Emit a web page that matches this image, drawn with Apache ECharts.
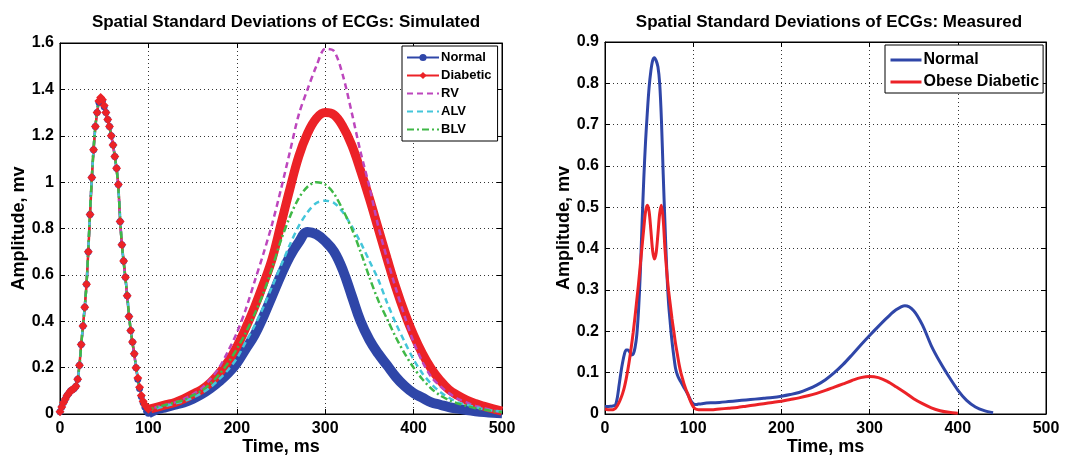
<!DOCTYPE html>
<html lang="en">

<head>
  <meta charset="utf-8">
  <script src="https://cdn.jsdelivr.net/npm/echarts@6.0.0/dist/echarts.min.js"></script>
  <style>
    html, body { margin: 0; padding: 0; background: #fff; }
  </style>
</head>

<body>
  <div id="ecgChart" style="width: 1067px;height:457px;"></div>

  <script type="text/javascript">

    // sampling grids (ms)
    function range(start, end, step) {
        var out = [];
        for (var t = start; t <= end; t += step) out.push(t);
        return out;
    }

    // ---- simulated ----
    var simTimeQrs = range(0, 100, 2);
    var simTimeT = range(100, 500, 10);
    var simTimeDash = range(0, 95, 5).concat(range(100, 500, 10));

    var normalQrs = [0.01, 0.03, 0.05, 0.065, 0.08, 0.09, 0.10, 0.105, 0.11, 0.12, 0.15, 0.21, 0.30, 0.38, 0.46, 0.56, 0.70, 0.86, 1.02, 1.14,
        1.24, 1.30, 1.345, 1.36, 1.35, 1.325, 1.30, 1.27, 1.24, 1.20, 1.16, 1.11, 1.06, 0.99, 0.83, 0.73, 0.66, 0.59, 0.51, 0.42,
        0.36, 0.31, 0.26, 0.20, 0.15, 0.11, 0.075, 0.05, 0.03, 0.012, 0.003];
    var normalT = [0.003, 0.02, 0.03, 0.04, 0.05, 0.065, 0.085, 0.11, 0.14, 0.175, 0.22, 0.28, 0.34, 0.42, 0.51, 0.60, 0.68, 0.74, 0.785, 0.775,
        0.745, 0.70, 0.62, 0.51, 0.40, 0.32, 0.26, 0.21, 0.16, 0.12, 0.09, 0.07, 0.05, 0.04, 0.03, 0.023, 0.017, 0.012, 0.008, 0.005, 0.003];

    var diabeticQrs = [0.01, 0.03, 0.05, 0.065, 0.08, 0.09, 0.10, 0.105, 0.11, 0.12, 0.15, 0.21, 0.30, 0.38, 0.46, 0.56, 0.70, 0.86, 1.02, 1.14,
        1.24, 1.30, 1.35, 1.365, 1.355, 1.33, 1.30, 1.27, 1.24, 1.20, 1.16, 1.11, 1.06, 0.99, 0.83, 0.73, 0.66, 0.59, 0.51, 0.42,
        0.36, 0.31, 0.26, 0.20, 0.155, 0.115, 0.08, 0.055, 0.04, 0.03, 0.02];
    var diabeticT = [0.02, 0.03, 0.04, 0.05, 0.065, 0.085, 0.105, 0.135, 0.175, 0.225, 0.29, 0.37, 0.46, 0.56, 0.67, 0.82, 0.97, 1.11, 1.21, 1.275,
        1.30, 1.29, 1.24, 1.16, 1.05, 0.93, 0.80, 0.67, 0.545, 0.435, 0.34, 0.26, 0.195, 0.145, 0.105, 0.08, 0.06, 0.045, 0.033, 0.022, 0.012];

    var rvValues = [0.01, 0.06, 0.09, 0.11, 0.15, 0.34, 0.56, 0.95, 1.24, 1.355, 1.325, 1.25, 1.16, 1.02, 0.73, 0.55, 0.36, 0.23, 0.11, 0.045,
        0.02, 0.03, 0.04, 0.05, 0.065, 0.085, 0.11, 0.15, 0.20, 0.27, 0.35, 0.45, 0.57, 0.69, 0.82, 0.97, 1.13, 1.29, 1.40, 1.50,
        1.575, 1.565, 1.46, 1.30, 1.13, 0.98, 0.81, 0.67, 0.54, 0.42, 0.31, 0.225, 0.16, 0.12, 0.09, 0.065, 0.05, 0.035, 0.025, 0.015, 0.01];
    var alvValues = [0.01, 0.06, 0.09, 0.11, 0.15, 0.34, 0.56, 0.95, 1.24, 1.35, 1.32, 1.25, 1.16, 1.02, 0.73, 0.55, 0.36, 0.23, 0.11, 0.045,
        0.02, 0.025, 0.035, 0.045, 0.055, 0.07, 0.09, 0.115, 0.15, 0.19, 0.24, 0.31, 0.38, 0.46, 0.55, 0.64, 0.73, 0.81, 0.87, 0.91,
        0.92, 0.91, 0.87, 0.81, 0.74, 0.66, 0.58, 0.48, 0.39, 0.31, 0.235, 0.175, 0.13, 0.095, 0.07, 0.05, 0.04, 0.03, 0.02, 0.015, 0.01];
    var blvValues = [0.01, 0.06, 0.09, 0.11, 0.15, 0.34, 0.56, 0.95, 1.24, 1.35, 1.32, 1.25, 1.16, 1.02, 0.73, 0.55, 0.36, 0.23, 0.11, 0.045,
        0.02, 0.03, 0.04, 0.05, 0.06, 0.08, 0.10, 0.13, 0.17, 0.22, 0.28, 0.35, 0.43, 0.52, 0.63, 0.75, 0.85, 0.93, 0.98, 1.00,
        0.99, 0.95, 0.88, 0.80, 0.70, 0.59, 0.49, 0.41, 0.33, 0.26, 0.20, 0.15, 0.11, 0.08, 0.06, 0.045, 0.035, 0.025, 0.018, 0.012, 0.008];

    // ---- measured ----
    var measTimeQrs = range(0, 110, 2);
    var measNormalTimeT = range(120, 440, 10);
    var measDiabeticTimeT = range(120, 400, 10);

    var measNormalQrs = [0.018, 0.018, 0.018, 0.019, 0.019, 0.02, 0.022, 0.04, 0.07, 0.10, 0.125, 0.145, 0.155, 0.155, 0.15, 0.143, 0.145, 0.16, 0.19, 0.25,
        0.34, 0.46, 0.57, 0.66, 0.73, 0.79, 0.83, 0.855, 0.862, 0.855, 0.84, 0.80, 0.71, 0.58, 0.46, 0.35, 0.27, 0.22, 0.175, 0.14,
        0.11, 0.095, 0.085, 0.078, 0.07, 0.062, 0.055, 0.047, 0.038, 0.03, 0.025, 0.023, 0.023, 0.024, 0.024, 0.025];
    var measNormalT = [0.027, 0.028, 0.030, 0.032, 0.034, 0.036, 0.038, 0.040, 0.043, 0.047, 0.052, 0.060, 0.070, 0.083, 0.10, 0.12, 0.143, 0.167, 0.19, 0.212,
        0.233, 0.252, 0.262, 0.25, 0.215, 0.165, 0.125, 0.09, 0.058, 0.033, 0.017, 0.008, 0.003];

    var measDiabeticQrs = [0.012, 0.011, 0.01, 0.01, 0.01, 0.011, 0.014, 0.02, 0.028, 0.038, 0.05, 0.065, 0.085, 0.108, 0.135, 0.165, 0.198, 0.235, 0.275, 0.315,
        0.36, 0.405, 0.45, 0.49, 0.505, 0.49, 0.445, 0.395, 0.375, 0.39, 0.435, 0.485, 0.505, 0.47, 0.40, 0.345, 0.30, 0.265, 0.23, 0.20,
        0.17, 0.145, 0.12, 0.10, 0.085, 0.07, 0.058, 0.048, 0.036, 0.026, 0.018, 0.013, 0.011, 0.01, 0.01, 0.01];
    var measDiabeticT = [0.01, 0.012, 0.014, 0.016, 0.019, 0.022, 0.025, 0.028, 0.031, 0.035, 0.039, 0.044, 0.05, 0.057, 0.065, 0.073, 0.081, 0.088, 0.091, 0.088,
        0.079, 0.066, 0.052, 0.037, 0.025, 0.015, 0.008, 0.004, 0.002];

    var xTicks = [0, 100, 200, 300, 400, 500];

    function pairs(times, values) {
        return times.map(function (t, i) { return [t, values[i]]; });
    }

    var FONT = '"Liberation Sans", Arial, sans-serif';
    var BLUE = '#2f46a8', RED = '#ec2227', MAGENTA = '#bd46bd', CYAN = '#44c6da', GREEN = '#3fb846';
    var NO_MARK = { color: 'rgba(0,0,0,0)', borderColor: 'rgba(0,0,0,0)', borderWidth: 0 };

    function bottomAxis(grid) {
        return {
            type: 'value', gridIndex: grid, min: xTicks[0], max: xTicks[xTicks.length - 1], interval: 100,
            name: 'Time, ms', nameLocation: 'middle', nameGap: 24, nameMoveOverlap: false,
            nameTextStyle: { fontFamily: FONT, fontWeight: 'bold', fontSize: 18, color: '#000' },
            axisLine: { onZero: false, lineStyle: { color: '#000', width: 1 } },
            axisTick: { inside: true, length: 5, lineStyle: { color: '#000' } },
            axisLabel: { margin: 7, fontFamily: FONT, fontWeight: 'bold', fontSize: 16, color: '#000' },
            splitLine: { show: true, lineStyle: { type: [1, 3], color: '#333', width: 1 } }
        };
    }
    function topAxis(grid) {
        return {
            type: 'value', gridIndex: grid, position: 'top', min: 0, max: 500, interval: 100,
            axisLine: { onZero: false, lineStyle: { color: '#000', width: 1 } },
            axisTick: { inside: true, length: 5, lineStyle: { color: '#000' } },
            axisLabel: { show: false }, splitLine: { show: false }
        };
    }
    function leftAxis(grid, max, step) {
        return {
            type: 'value', gridIndex: grid, min: 0, max: max, interval: step,
            name: 'Amplitude, mv', nameLocation: 'middle', nameGap: 30,
            nameTextStyle: { fontFamily: FONT, fontWeight: 'bold', fontSize: 18, color: '#000' },
            axisLine: { show: true, onZero: false, lineStyle: { color: '#000', width: 1 } },
            axisTick: { show: true, inside: true, length: 5, lineStyle: { color: '#000' } },
            axisLabel: { margin: 6, fontFamily: FONT, fontWeight: 'bold', fontSize: 16, color: '#000' },
            splitLine: { show: true, lineStyle: { type: [1, 3], color: '#333', width: 1 } }
        };
    }
    function rightAxis(grid, max, step) {
        return {
            type: 'value', gridIndex: grid, position: 'right', min: 0, max: max, interval: step,
            axisLine: { show: true, onZero: false, lineStyle: { color: '#000', width: 1 } },
            axisTick: { show: true, inside: true, length: 5, lineStyle: { color: '#000' } },
            axisLabel: { show: false }, splitLine: { show: false }
        };
    }

    function createEcgChart() {
        var chart = echarts.init(document.getElementById('ecgChart'));

        var measLabels = { 'Normal ': 'Normal', 'Obese Diabetic': 'Obese Diabetic' };

        var option = {
            animation: false,
            backgroundColor: '#fff',
            title: [
                {
                    text: 'Spatial Standard Deviations of ECGs: Simulated', left: 281, top: 9, textAlign: 'center',
                    textStyle: { fontFamily: FONT, fontWeight: 'bold', fontSize: 17, color: '#000' }
                },
                {
                    text: 'Spatial Standard Deviations of ECGs: Measured', left: 824, top: 9, textAlign: 'center',
                    textStyle: { fontFamily: FONT, fontWeight: 'bold', fontSize: 17, color: '#000' }
                }
            ],
            legend: [
                {
                    data: ['Normal', 'Diabetic',
                        { name: 'RV', itemStyle: NO_MARK },
                        { name: 'ALV', itemStyle: NO_MARK },
                        { name: 'BLV', itemStyle: NO_MARK }],
                    orient: 'vertical', left: 402, top: 46,
                    itemWidth: 32, itemHeight: 9, itemGap: 5,
                    padding: [5, 6, 5, 4],
                    backgroundColor: '#fff', borderColor: '#000', borderWidth: 1, borderRadius: 0,
                    textStyle: { fontFamily: FONT, fontWeight: 'bold', fontSize: 13, color: '#000', padding: [0, 0, 0, -3] }
                },
                {
                    data: [{ name: 'Normal ', itemStyle: NO_MARK }, { name: 'Obese Diabetic', itemStyle: NO_MARK }],
                    orient: 'vertical', left: 885, top: 45,
                    itemWidth: 31, itemHeight: 14, itemGap: 6,
                    padding: [7, 4, 3, 4],
                    backgroundColor: '#fff', borderColor: '#000', borderWidth: 1, borderRadius: 0,
                    formatter: function (name) { return measLabels[name]; },
                    lineStyle: { width: 3 },
                    textStyle: { fontFamily: FONT, fontWeight: 'bold', fontSize: 16, color: '#000', padding: [0, 0, 0, -3] }
                }
            ],
            grid: [
                { left: 60, top: 43, width: 442, height: 371, show: true, borderColor: '#000', borderWidth: 1, outerBoundsMode: 'none' },
                { left: 605, top: 42, width: 441, height: 372, show: true, borderColor: '#000', borderWidth: 1, outerBoundsMode: 'none' }
            ],
            xAxis: [bottomAxis(0), topAxis(0), bottomAxis(1), topAxis(1)],
            yAxis: [leftAxis(0, 1.6, 0.2), rightAxis(0, 1.6, 0.2), leftAxis(1, 0.9, 0.1), rightAxis(1, 0.9, 0.1)],
            series: [
                {
                    name: 'Normal', type: 'line', xAxisIndex: 0, yAxisIndex: 0,
                    data: pairs(simTimeQrs, normalQrs), symbol: 'circle', symbolSize: 7, showSymbol: true,
                    lineStyle: { color: BLUE, width: 2 }, itemStyle: { color: BLUE }
                },
                {
                    name: 'Normal', type: 'line', xAxisIndex: 0, yAxisIndex: 0,
                    data: pairs(simTimeT, normalT), smooth: 0.4, symbol: 'none',
                    lineStyle: { color: BLUE, width: 10 }, itemStyle: { color: BLUE }
                },
                {
                    name: 'Diabetic', type: 'line', xAxisIndex: 0, yAxisIndex: 0,
                    data: pairs(simTimeQrs, diabeticQrs), symbol: 'diamond', symbolSize: 9, showSymbol: true,
                    lineStyle: { color: RED, width: 2.5 }, itemStyle: { color: RED }
                },
                {
                    name: 'Diabetic', type: 'line', xAxisIndex: 0, yAxisIndex: 0,
                    data: pairs(simTimeT, diabeticT), smooth: 0.4, symbol: 'none',
                    lineStyle: { color: RED, width: 9 }, itemStyle: { color: RED }
                },
                {
                    name: 'RV', type: 'line', xAxisIndex: 0, yAxisIndex: 0,
                    data: pairs(simTimeDash, rvValues), smooth: 0.3, symbol: 'none',
                    lineStyle: { color: MAGENTA, width: 2.5, type: [6, 4] }, itemStyle: { color: MAGENTA }
                },
                {
                    name: 'ALV', type: 'line', xAxisIndex: 0, yAxisIndex: 0,
                    data: pairs(simTimeDash, alvValues), smooth: 0.3, symbol: 'none',
                    lineStyle: { color: CYAN, width: 2.5, type: [6, 4] }, itemStyle: { color: CYAN }
                },
                {
                    name: 'BLV', type: 'line', xAxisIndex: 0, yAxisIndex: 0,
                    data: pairs(simTimeDash, blvValues), smooth: 0.3, symbol: 'none',
                    lineStyle: { color: GREEN, width: 2.5, type: [7, 3, 2, 3] }, itemStyle: { color: GREEN }
                },
                {
                    name: 'Normal ', type: 'line', xAxisIndex: 2, yAxisIndex: 2,
                    data: pairs(measTimeQrs.concat(measNormalTimeT), measNormalQrs.concat(measNormalT)),
                    smooth: 0.3, symbol: 'none',
                    lineStyle: { color: BLUE, width: 3 }, itemStyle: { color: BLUE }
                },
                {
                    name: 'Obese Diabetic', type: 'line', xAxisIndex: 2, yAxisIndex: 2,
                    data: pairs(measTimeQrs.concat(measDiabeticTimeT), measDiabeticQrs.concat(measDiabeticT)),
                    smooth: 0.3, symbol: 'none',
                    lineStyle: { color: RED, width: 3 }, itemStyle: { color: RED }
                }
            ]
        };

        chart.setOption(option);
    }
    createEcgChart();
  </script>
</body>

</html>
